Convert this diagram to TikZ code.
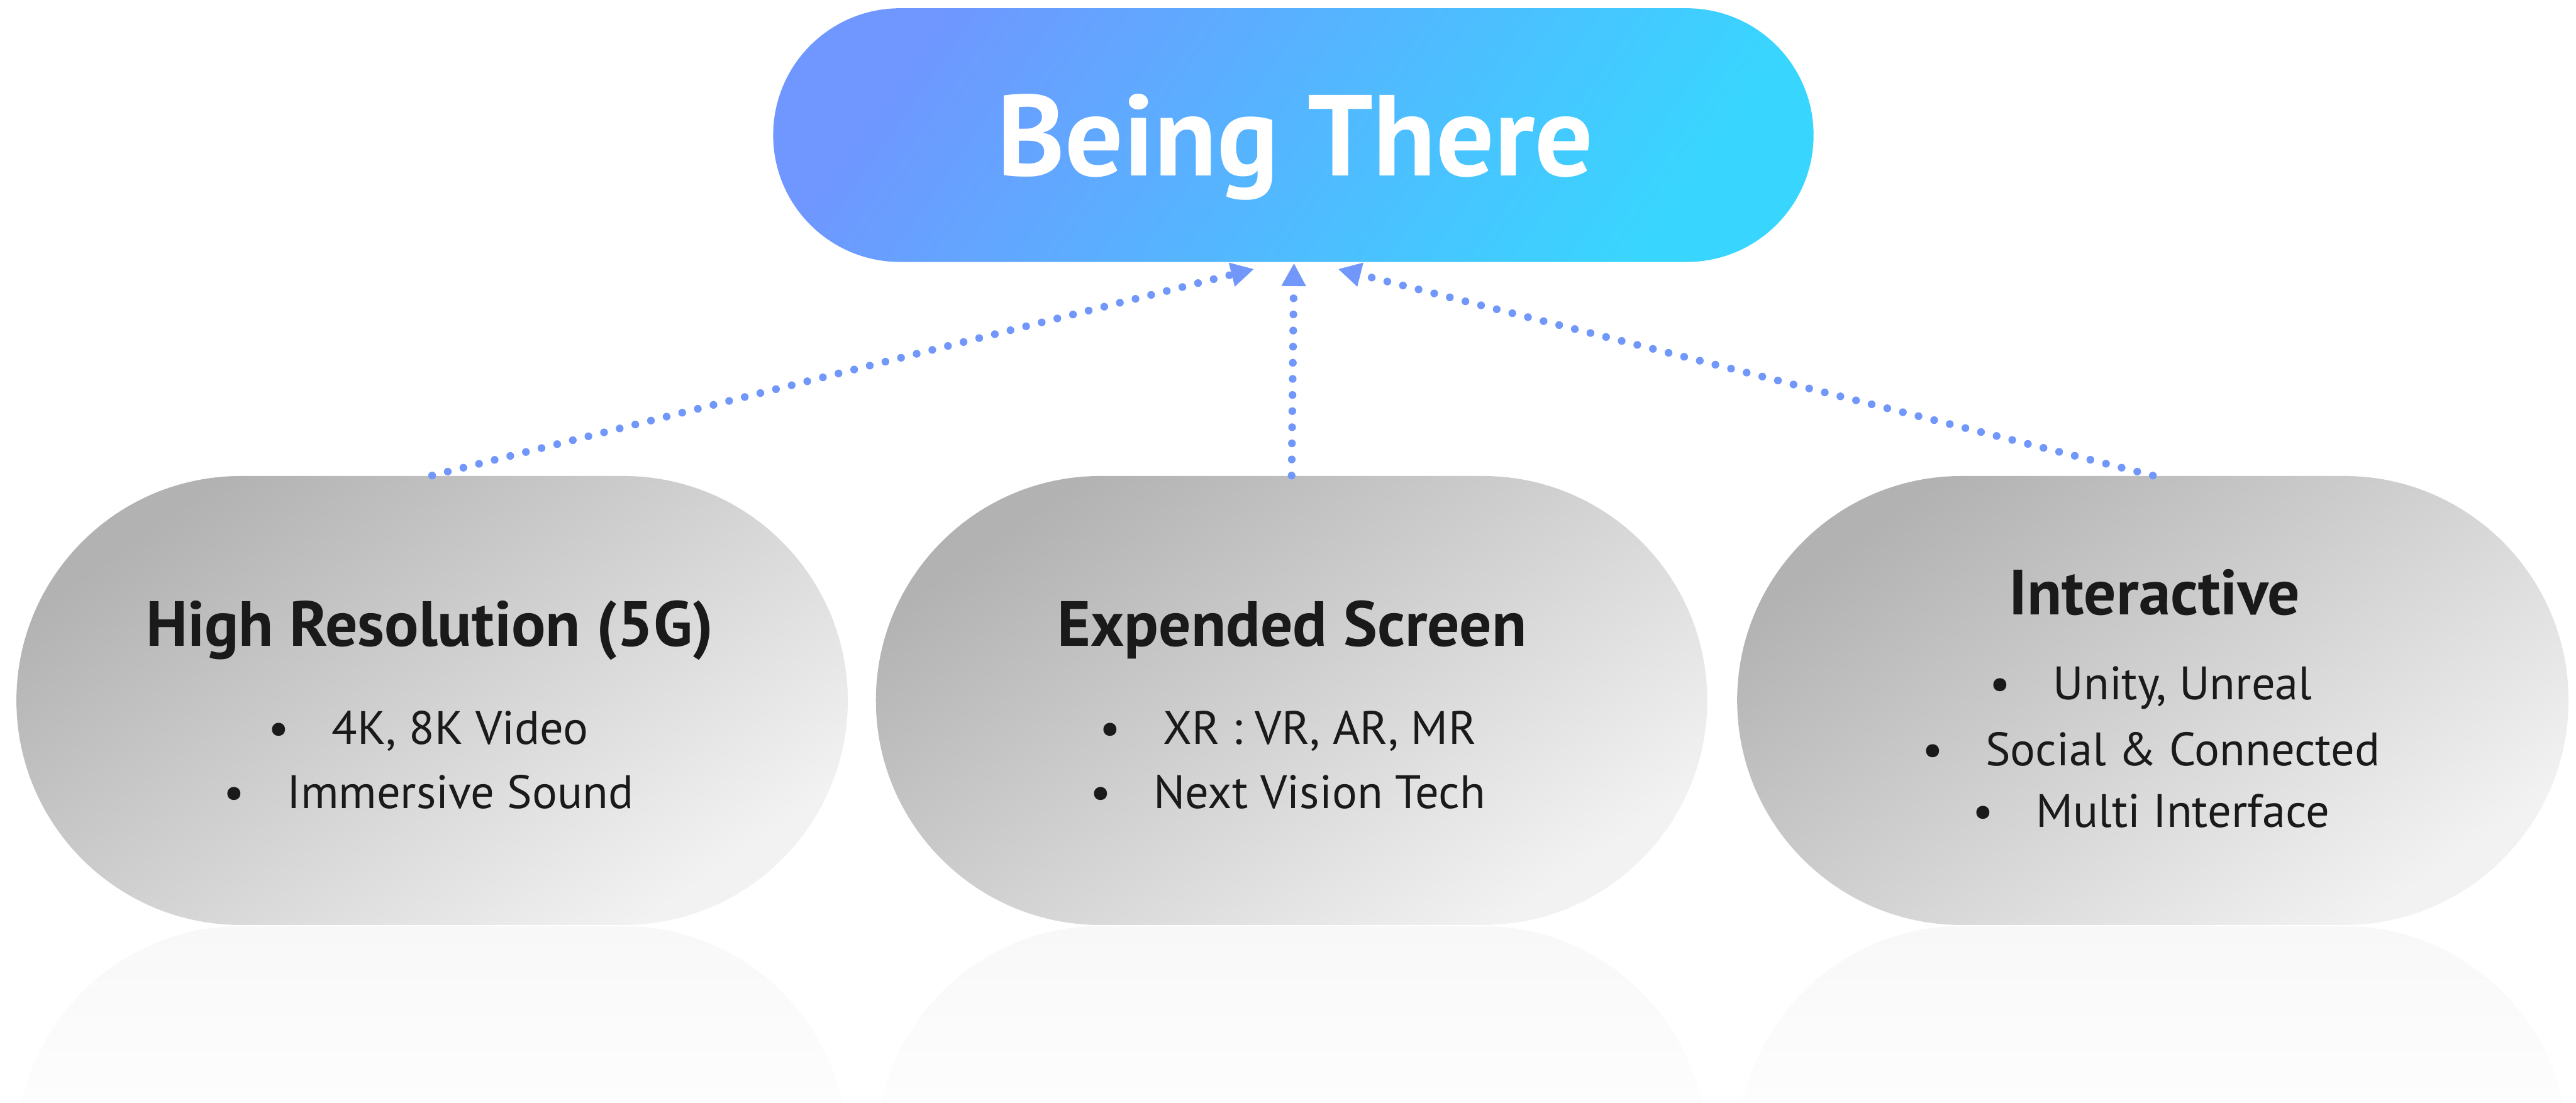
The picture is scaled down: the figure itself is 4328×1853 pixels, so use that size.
\documentclass[tikz,border=0pt]{standalone}
\usepackage{fontspec}
\setmainfont{PT Sans}
\usetikzlibrary{arrows.meta,calc}
\definecolor{blueA}{HTML}{6F97FF}
\definecolor{blueB}{HTML}{38D6FF}
\definecolor{greyA}{HTML}{B2B2B2}
\definecolor{greyB}{HTML}{F2F2F2}
\definecolor{dotblue}{HTML}{7197FA}
\definecolor{ink}{HTML}{1A1A1A}
\definecolor{mistA}{HTML}{F8F8F8}
\newcommand\bulletline[1]{\textbullet\hspace{0.9em}#1}
\begin{document}
\begin{tikzpicture}[x=0.01cm,y=-0.01cm,
  hub/.style={rectangle, rounded corners=2.13cm, minimum width=17.47cm,
    minimum height=4.26cm, left color=blueA, right color=blueB,
    shading angle=55, inner sep=0pt},
  pillar/.style={rectangle, rounded corners=3.77cm, minimum width=13.96cm,
    minimum height=7.54cm, left color=greyA, right color=greyB,
    shading angle=35, inner sep=0pt},
  hubtxt/.style={anchor=base, font=\fontsize{55}{64}\selectfont\bfseries, text=white},
  headtxt/.style={anchor=base, font=\fontsize{30.5}{36}\selectfont\bfseries, text=ink},
  itemtxt/.style={anchor=base, font=\fontsize{22.4}{27}\selectfont, text=ink},
  conn/.style={dotblue, line width=3.7pt, line cap=round,
    dash pattern=on 0pt off 7.7pt, -{Triangle[length=11pt,width=11pt]}},
]
\useasboundingbox (0,0) rectangle (4328,1853);

% faded reflections under the three pillars, built from thin bands
\foreach \cx in {726,2170,3617}{
  \begin{scope}
    \clip[rounded corners=3.77cm] (\cx-698,1556) rectangle (\cx+698,2310);
    \foreach \i in {0,...,29}{
      \pgfmathsetmacro\pct{100-2.5*\i}
      \fill[mistA!\pct!white] (\cx-700,1556+10*\i) rectangle (\cx+700,1567+10*\i);
    }
  \end{scope}
}

% main goal
\node[hub] (top) at (2173,227) {};
\node[hubtxt] (toptxt) at (2176,295) {Being There};

% pillars
\node[pillar] (b1) at (726,1177) {};
\node[pillar] (b2) at (2170,1177) {};
\node[pillar] (b3) at (3617,1177) {};

\node[headtxt] (h1) at (722,1086) {High Resolution (5G)};
\node[itemtxt] (i11) at (720,1250) {\bulletline{4K, 8K Video}};
\node[itemtxt] (i12) at (720,1358) {\bulletline{Immersive Sound}};

\node[headtxt] (h2) at (2171,1086) {Expended Screen};
\node[itemtxt] (i21) at (2164,1250) {\bulletline{XR : VR, AR, MR}};
\node[itemtxt] (i22) at (2164,1358) {\bulletline{Next Vision Tech}};

\node[headtxt] (h3) at (3620,1033) {Interactive};
\node[itemtxt] (i31) at (3614,1176) {\bulletline{Unity, Unreal}};
\node[itemtxt] (i32) at (3614,1286) {\bulletline{Social \& Connected}};
\node[itemtxt] (i33) at (3614,1390) {\bulletline{Multi Interface}};

% arrow tips just below the goal
\coordinate (tL) at (2107,452);
\coordinate (tM) at (2174,442);
\coordinate (tR) at (2248,452);

\draw[conn] (b1.north) -- (tL);
\draw[conn] (b2.north) -- (tM);
\draw[conn] (b3.north) -- (tR);
\end{tikzpicture}
\end{document}
